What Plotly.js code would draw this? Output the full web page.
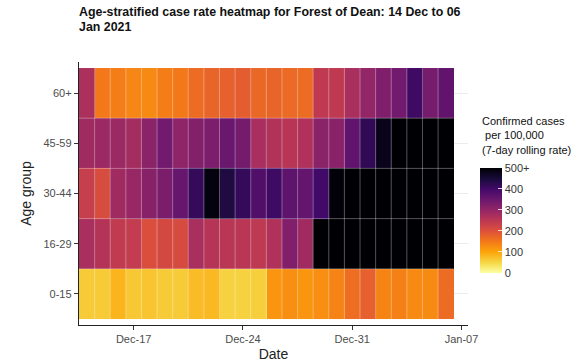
<!DOCTYPE html>
<html>
<head>
<meta charset="utf-8">
<script src="https://cdn.plot.ly/plotly-3.0.1.min.js"></script>
<style>html,body{margin:0;padding:0;background:#fff;}#chart{width:586px;height:362px;}</style>
</head>
<body>
<div id="chart"></div>
<script>
// ---- data ----
var dates = ['2020-12-14','2020-12-15','2020-12-16','2020-12-17','2020-12-18','2020-12-19','2020-12-20','2020-12-21',
             '2020-12-22','2020-12-23','2020-12-24','2020-12-25','2020-12-26','2020-12-27','2020-12-28','2020-12-29',
             '2020-12-30','2020-12-31','2021-01-01','2021-01-02','2021-01-03','2021-01-04','2021-01-05','2021-01-06'];
var ageGroups = ['0-15','16-29','30-44','45-59','60+'];
var rate_0_15  = [62,62,85,65,68,62,62,77,80,55,55,58,118,125,118,125,138,163,180,137,140,130,130,165];
var rate_16_29 = [275,260,243,240,205,215,212,275,257,252,252,247,265,322,285,550,560,570,580,590,600,610,620,630];
var rate_30_44 = [235,210,285,295,315,330,355,415,490,440,415,380,405,365,357,400,495,550,560,580,600,620,640,650];
var rate_45_59 = [285,290,292,280,310,340,305,320,328,350,338,275,262,255,265,310,312,362,420,480,540,560,580,600];
var rate_60p   = [270,150,145,135,130,145,150,165,175,180,185,170,175,168,165,245,245,275,300,325,340,405,335,360];
var cbTickVals = [0,100,200,300,400,500];
var cbTickText = ['0','100','200','300','400','500+'];

var z = [rate_0_15, rate_16_29, rate_30_44, rate_45_59, rate_60p];

// inferno, reversed (low = pale yellow, high = black)
var infernoRev = [
  [0.0,'#fcffa4'],[0.1,'#f6d746'],[0.2,'#fca50a'],[0.3,'#f37819'],[0.4,'#dd513a'],
  [0.5,'#bc3754'],[0.6,'#932667'],[0.7,'#6a176e'],[0.8,'#420a68'],[0.9,'#160b39'],[1.0,'#000004']
];

function fmt(ms){
  var d = new Date(ms);
  function p(n){return (n<10?'0':'')+n;}
  return d.getUTCFullYear()+'-'+p(d.getUTCMonth()+1)+'-'+p(d.getUTCDate())+' '+p(d.getUTCHours())+':'+p(d.getUTCMinutes());
}
var DAY = 86400000;
var t0 = Date.parse(dates[0]+'T00:00:00Z');
var tN = Date.parse(dates[dates.length-1]+'T00:00:00Z');

// faint cell borders derived from the data grid
var shapes = [];
for (var i=1;i<dates.length;i++){
  var b = Date.parse(dates[i]+'T00:00:00Z') - DAY/2;
  shapes.push({type:'line', xref:'x', yref:'y', x0:fmt(b), x1:fmt(b), y0:-0.5, y1:ageGroups.length-0.5,
               line:{color:'rgba(255,255,255,0.33)', width:1}, layer:'above'});
}
for (var j=1;j<ageGroups.length;j++){
  shapes.push({type:'line', xref:'x', yref:'y', x0:fmt(t0-DAY/2), x1:fmt(tN+DAY/2), y0:j-0.5, y1:j-0.5,
               line:{color:'rgba(255,255,255,0.33)', width:1}, layer:'above'});
}

var trace = {
  type:'heatmap', x:dates, y:ageGroups, z:z,
  zmin:0, zmax:500, colorscale:infernoRev, hoverongaps:false,
  colorbar:{
    x:1.031, xanchor:'left', xpad:0, y:0.398, yanchor:'middle', ypad:0,
    len:105, lenmode:'pixels', thickness:22, thicknessmode:'pixels',
    outlinewidth:0, tickvals:cbTickVals, ticktext:cbTickText,
    ticks:'inside', ticklen:4, tickcolor:'rgba(255,255,255,0.8)',
    tickfont:{family:'Liberation Sans, Arial, sans-serif', size:11, color:'#333'}
  }
};

var layout = {
  width:586, height:362,
  margin:{l:79, r:118, t:62, b:36.5, pad:0},
  paper_bgcolor:'#fff', plot_bgcolor:'#fff',
  font:{family:'Liberation Sans, Arial, sans-serif', size:11, color:'#4d4d4d'},
  xaxis:{
    type:'date', range:['2020-12-13 12:00','2021-01-07 10:00'],
    tickvals:['2020-12-17','2020-12-24','2020-12-31','2021-01-07'],
    ticktext:['Dec-17','Dec-24','Dec-31','Jan-07'],
    ticks:'outside', ticklen:4, tickcolor:'#333', showgrid:false, zeroline:false,
    showline:true, linecolor:'#222', linewidth:1.2,
    tickfont:{size:11, color:'#4d4d4d'},
    title:{text:'Date', font:{size:14, color:'#222'}, standoff:5}
  },
  yaxis:{
    type:'category', range:[-0.62, 4.62],
    ticks:'outside', ticklen:4, tickcolor:'#333', showgrid:true, gridcolor:'#ebebeb', gridwidth:1,
    zeroline:false, showline:true, linecolor:'#222', linewidth:1.2,
    tickfont:{size:11, color:'#4d4d4d'},
    title:{text:'Age group', font:{size:14, color:'#222'}, standoff:8}
  },
  shapes:shapes,
  annotations:[
    {xref:'paper', yref:'paper', x:1.031, y:0.806, xanchor:'left', yanchor:'top', align:'left', showarrow:false,
     text:'Confirmed cases<br> per 100,000<br>(7-day rolling rate)', font:{size:11, color:'#111'}},
    {xref:'paper', yref:'paper', x:-0.005, y:1.225, xanchor:'left', yanchor:'top', showarrow:false,
     text:'<b>Age-stratified case rate heatmap for Forest of Dean: 14 Dec to 06</b>', font:{size:12.4, color:'#111'}},
    {xref:'paper', yref:'paper', x:-0.005, y:1.168, xanchor:'left', yanchor:'top', showarrow:false,
     text:'<b>Jan 2021</b>', font:{size:12.4, color:'#111'}}
  ]
};

Plotly.newPlot('chart', [trace], layout, {displayModeBar:false, staticPlot:true});
</script>
</body>
</html>
